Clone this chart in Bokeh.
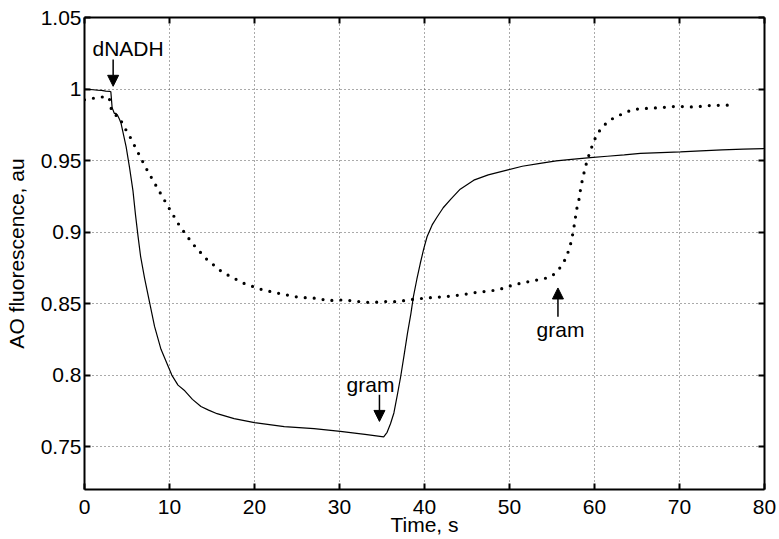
from bokeh.plotting import figure
from bokeh.models import Label, Arrow, NormalHead, LinearAxis, FixedTicker
from bokeh.embed import file_html
from bokeh.resources import INLINE

# ---- data ----
solid_t = [0, 0.5, 1.0, 1.5, 2.0, 2.5, 3.0, 3.1, 3.25, 3.5, 3.7, 3.9, 4.1, 4.3, 4.9, 5.3, 5.7,
           6.0, 6.3, 6.6, 7.06, 7.65, 8.24, 9.0, 10.27, 11.0, 11.8, 12.7, 13.7, 14.6, 15.6,
           17.6, 20.0, 23.5, 27.0, 30.1, 33.0, 35.2, 35.6, 36.0, 36.4, 36.8, 37.2, 37.6,
           38.0, 38.4, 38.7, 39.1, 39.5, 39.9, 40.3, 40.9, 41.5, 42.2, 43.1, 44.2, 45.8,
           47.5, 49.7, 51.5, 53.6, 55.5, 57.6, 59.5, 61.5, 63.5, 65.4, 67.8, 70.1, 72.5,
           75.0, 77.5, 80.0]
solid_v = [1.000, 0.9998, 0.9995, 0.9992, 0.9990, 0.9985, 0.9983, 0.9980, 0.9870, 0.9830,
           0.9830, 0.9815, 0.9790, 0.9760, 0.9595, 0.9450, 0.9290, 0.9120, 0.8970, 0.8830,
           0.8680, 0.8510, 0.8340, 0.8180, 0.8000, 0.7930, 0.7890, 0.7830, 0.7780, 0.7755,
           0.7730, 0.7695, 0.7667, 0.7640, 0.7625, 0.7607, 0.7585, 0.7568, 0.7600, 0.7660,
           0.7735, 0.7860, 0.7990, 0.8140, 0.8293, 0.8430, 0.8550, 0.8670, 0.8780, 0.8880,
           0.8967, 0.9050, 0.9107, 0.9170, 0.9230, 0.9300, 0.9363, 0.9400, 0.9433, 0.9460,
           0.9480, 0.9497, 0.9510, 0.9520, 0.9530, 0.9540, 0.9550, 0.9555, 0.9560, 0.9568,
           0.9575, 0.9580, 0.9584]

dotted_t = [0.0, 0.5, 1.0, 1.5, 2.0, 2.5, 2.9, 3.14, 3.5, 4.04, 4.6, 5.3, 6.4, 7.37, 8.6,
            9.9, 11.2, 12.7, 14.3, 16.2, 17.8, 18.9, 21.0, 23.2, 25.2, 27.7, 28.5, 30.6,
            32.0, 33.7, 35.7, 36.7, 38.7, 40.5, 42.5, 44.3, 46.0, 48.6, 50.6, 52.5, 54.4,
            55.1, 56.0, 56.7, 57.2, 57.5, 57.9, 58.2, 58.4, 58.7, 59.0, 59.4, 59.85, 60.3,
            61.0, 61.9, 63.4, 64.5, 65.6, 67.8, 69.6, 71.7, 73.45, 75.5, 76.4]
dotted_v = [0.9925, 0.9930, 0.9935, 0.9940, 0.9944, 0.9945, 0.9940, 0.9863, 0.9820, 0.9809,
            0.9742, 0.9672, 0.9544, 0.9433, 0.9305, 0.9172, 0.9042, 0.8920, 0.8814, 0.8720,
            0.8670, 0.8637, 0.8595, 0.8567, 0.8544, 0.8535, 0.8520, 0.8526, 0.8515, 0.8507,
            0.8515, 0.8513, 0.8530, 0.8540, 0.8549, 0.8560, 0.8577, 0.8595, 0.8633, 0.8656,
            0.8679, 0.8698, 0.8754, 0.8823, 0.8920, 0.9002, 0.9158, 0.9235, 0.9316, 0.9398,
            0.9470, 0.9549, 0.9623, 0.9684, 0.9740, 0.9786, 0.9830, 0.9856, 0.9863, 0.9870,
            0.9879, 0.9874, 0.9884, 0.9888, 0.9879]

xtick_values = [0, 10, 20, 30, 40, 50, 60, 70, 80]
ytick_values = [0.75, 0.8, 0.85, 0.9, 0.95, 1.0, 1.05]
ytick_labels = ["0.75", "0.8", "0.85", "0.9", "0.95", "1", "1.05"]

x_title = "Time, s"
y_title = "AO fluorescence, au"

note_texts = ["dNADH", "gram", "gram"]
note_x = [0.94, 33.65, 56.0]
note_y = [1.0282, 0.7933, 0.8322]
note_align = ["left", "center", "center"]

arrow_x = [3.37, 34.7, 55.7]
arrow_y_start = [1.0207, 0.7863, 0.8407]
arrow_y_end = [1.0019, 0.7676, 0.8609]

FONT = "Liberation Sans"
FS = "21px"

p = figure(width=779, height=539, x_range=(0, 80), y_range=(0.72, 1.05),
           output_backend="svg", toolbar_location=None,
           min_border_left=84, min_border_right=15, min_border_top=17, min_border_bottom=50)
p.outline_line_color = None
p.background_fill_color = "white"
p.border_fill_color = "white"

p.add_layout(LinearAxis(), "above")
p.add_layout(LinearAxis(), "right")

for ax in p.xaxis:
    ax.ticker = FixedTicker(ticks=xtick_values)
for ax in p.yaxis:
    ax.ticker = FixedTicker(ticks=ytick_values)
    ax.major_label_overrides = {v: s for v, s in zip(ytick_values, ytick_labels)}

for ax in list(p.xaxis) + list(p.yaxis):
    ax.axis_line_color = "black"
    ax.axis_line_width = 2
    ax.major_tick_line_color = "black"
    ax.major_tick_line_width = 2
    ax.major_tick_in = 6
    ax.major_tick_out = 0
    ax.minor_tick_in = 0
    ax.minor_tick_out = 0
    ax.minor_tick_line_color = None
    ax.major_label_text_font = FONT
    ax.major_label_text_font_size = FS
    ax.major_label_text_color = "black"
    ax.axis_label_text_font = FONT
    ax.axis_label_text_font_size = FS
    ax.axis_label_text_font_style = "normal"
    ax.axis_label_text_color = "black"

bottom = p.below[0]
left = p.left[0]
bottom.major_label_standoff = 10
bottom.axis_label = x_title
bottom.axis_label_standoff = -4
left.major_label_standoff = 3
left.axis_label = y_title
left.axis_label_standoff = 10

for ax in (p.above[0], p.right[0]):
    ax.major_label_text_font_size = "1px"
    ax.major_label_text_color = None
    ax.major_label_standoff = 0

p.xgrid.grid_line_color = "#555555"
p.xgrid.grid_line_dash = "1 3"
p.xgrid.grid_line_width = 1
p.ygrid.grid_line_color = "#555555"
p.ygrid.grid_line_dash = "1 3"
p.ygrid.grid_line_width = 1

p.line(solid_t, solid_v, line_color="black", line_width=1.2)
p.line(dotted_t, dotted_v, line_color="black", line_width=3.2,
       line_dash="0 9", line_cap="round")

for txt, x, y, al in zip(note_texts, note_x, note_y, note_align):
    p.add_layout(Label(x=x, y=y, text=txt, text_align=al, text_baseline="alphabetic",
                       text_font=FONT, text_font_size=FS, text_color="black"))

for x, y0, y1 in zip(arrow_x, arrow_y_start, arrow_y_end):
    p.add_layout(Arrow(end=NormalHead(size=11, fill_color="black", line_color="black"),
                       x_start=x, y_start=y0, x_end=x, y_end=y1,
                       line_color="black", line_width=1.5))

open("out.html", "w").write(file_html(p, INLINE))
